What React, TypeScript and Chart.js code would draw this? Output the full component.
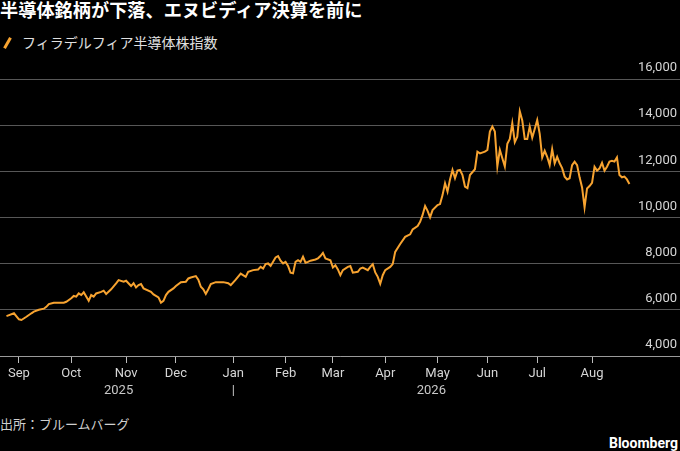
import { useEffect, useRef } from "react";
import { Chart, registerables } from "chart.js";

Chart.register(...registerables);

const TITLE = "半導体銘柄が下落、エヌビディア決算を前に";
const SERIES_NAME = "フィラデルフィア半導体株指数";
const SOURCE = "出所：ブルームバーグ";
const BRAND = "Bloomberg";

// x = trading-day index counted from the first session of September 2025
const tradingDays = [
  -5, -2, 0, 1, 3, 5, 6, 8, 10, 11,
  12, 14, 18, 19, 21, 22, 23, 24, 25, 26,
  28, 29, 30, 31, 33, 34, 35, 37, 39, 40,
  42, 43, 45, 46, 47, 48, 49, 50, 53, 54,
  56, 57, 58, 59, 60, 62, 63, 65, 67, 68,
  69, 71, 72, 73, 74, 75, 76, 77, 79, 82,
  84, 85, 87, 89, 91, 92, 94, 96, 97, 98,
  99, 100, 101, 103, 104, 105, 106, 107, 108, 109,
  110, 111, 112, 113, 114, 115, 116, 117, 119, 120,
  121, 122, 123, 125, 126, 127, 128, 129, 130, 132,
  133, 134, 136, 137, 138, 140, 141, 142, 143, 144,
  145, 146, 147, 149, 150, 151, 153, 155, 157, 158,
  160, 161, 162, 163, 164, 165, 166, 168, 169, 170,
  171, 172, 173, 174, 175, 176, 177, 178, 179, 180,
  181, 183, 184, 185, 187, 188, 189, 190, 191, 192,
  193, 194, 195, 196, 197, 198, 199, 200, 201, 202,
  203, 204, 205, 206, 207, 208, 209, 210, 211, 212,
  213, 214, 215, 216, 217, 218, 219, 220, 221, 222,
  223, 224, 225, 226, 227, 228, 229, 230, 231, 232,
  233, 234, 235, 236, 237, 238, 239, 240, 241, 242,
  243, 244, 245,
];

const soxValues = [
  5730, 5850, 5590, 5560, 5700, 5850, 5920, 6000, 6050, 6130,
  6250, 6310, 6310, 6350, 6500, 6600, 6570, 6710, 6640, 6760,
  6390, 6640, 6570, 6710, 6780, 6830, 6690, 6890, 7150, 7290,
  7220, 7260, 7030, 7150, 6970, 7070, 7120, 6930, 6780, 6670,
  6540, 6310, 6390, 6640, 6780, 6930, 7030, 7200, 7220, 7360,
  7400, 7460, 7310, 7000, 6890, 6690, 6890, 7120, 7200, 7200,
  7150, 7070, 7310, 7570, 7430, 7650, 7720, 7750, 7860, 7790,
  7980, 8010, 7900, 8270, 8330, 8130, 8010, 8080, 7900, 7610,
  7580, 8080, 8150, 8080, 8300, 8040, 8080, 8130, 8180, 8230,
  8330, 8470, 8230, 8150, 7830, 7930, 7750, 7500, 7720, 7860,
  7900, 7610, 7650, 7790, 7830, 7720, 7860, 7980, 7620, 7430,
  7130, 7500, 7720, 7860, 7980, 8510, 8850, 9160, 9270, 9480,
  9630, 9810, 10110, 10500, 10290, 10010, 10320, 10540, 10580, 10970,
  11480, 11120, 11650, 12060, 11700, 12030, 12060, 11840, 11340, 11270,
  11840, 12090, 12850, 12780, 12850, 12930, 13720, 13940, 13720, 12210,
  12930, 12570, 12210, 13190, 13400, 14080, 13260, 13500, 14600, 14200,
  13400, 13400, 13940, 13460, 13830, 14220, 13620, 12600, 12890, 12630,
  12270, 12960, 12350, 12630, 12350, 12140, 11770, 11650, 11700, 12270,
  12420, 12270, 11740, 11300, 10440, 11260, 11360, 11500, 12200, 12030,
  12130, 12370, 12030, 12200, 12420, 12460, 12420, 12600, 11840, 11740,
  11770, 11650, 11450,
];

const monthTickDays = [0, 21, 43, 63, 86, 107, 126, 147, 168, 188, 208, 230];
const monthLabels = ["Sep", "Oct", "Nov", "Dec", "Jan", "Feb", "Mar", "Apr", "May", "Jun", "Jul", "Aug"];

const yearTickDays = [40, 86, 165.5];
const yearLabels = ["2025", "|", "2026"];

const yTickValues = [4000, 6000, 8000, 10000, 12000, 14000, 16000];

const X_MIN = -7.6;
const X_MAX = 265.3;
const Y_MIN = 4000;
const Y_MAX = 16000;

const LINE_COLOR = "#f7a330";
const TICK_FONT = { family: "Roboto", size: 13 };

export default function App() {
  const canvasRef = useRef<HTMLCanvasElement | null>(null);

  useEffect(() => {
    if (!canvasRef.current) return;
    const points = tradingDays.map((d, i) => ({ x: d, y: soxValues[i] }));
    const chart = new Chart(canvasRef.current, {
      type: "line",
      data: {
        datasets: [
          {
            label: SERIES_NAME,
            data: points,
            borderColor: LINE_COLOR,
            borderWidth: 2,
            pointRadius: 0,
            tension: 0,
            fill: false,
            xAxisID: "x",
            yAxisID: "y",
          },
        ],
      },
      options: {
        animation: false,
        responsive: false,
        maintainAspectRatio: false,
        events: [],
        layout: { padding: { top: 79, left: 0, right: 0, bottom: 0 } },
        plugins: {
          legend: { display: false },
          tooltip: { enabled: false },
          title: { display: false },
        },
        scales: {
          x: {
            type: "linear",
            position: "bottom",
            weight: 0,
            bounds: "data",
            min: X_MIN,
            max: X_MAX,
            afterBuildTicks: (s: any) => {
              s.ticks = monthTickDays.map((v) => ({ value: v }));
            },
            afterFit: (s: any) => {
              s.height = 26;
            },
            ticks: {
              autoSkip: false,
              maxRotation: 0,
              minRotation: 0,
              color: "#d6d6d6",
              font: TICK_FONT,
              padding: 3,
              callback: (_v: any, i: number) => monthLabels[i],
            },
            grid: {
              drawOnChartArea: false,
              drawTicks: true,
              tickLength: 7,
              color: "#bdbdbd",
              tickColor: "#bdbdbd",
            },
            border: { display: true, color: "#9a9a9a", width: 1 },
          },
          x2: {
            type: "linear",
            position: "bottom",
            weight: 1,
            bounds: "data",
            min: X_MIN,
            max: X_MAX,
            afterBuildTicks: (s: any) => {
              s.ticks = yearTickDays.map((v) => ({ value: v }));
            },
            afterFit: (s: any) => {
              s.height = 28;
            },
            ticks: {
              autoSkip: false,
              maxRotation: 0,
              minRotation: 0,
              color: "#c8c8c8",
              font: TICK_FONT,
              padding: 1,
              callback: (_v: any, i: number) => yearLabels[i],
            },
            grid: { display: false, drawTicks: false },
            border: { display: false },
          },
          y: {
            type: "linear",
            position: "right",
            min: Y_MIN,
            max: Y_MAX,
            afterBuildTicks: (s: any) => {
              s.ticks = yTickValues.map((v) => ({ value: v }));
            },
            afterFit: (s: any) => {
              s.width = 0;
            },
            ticks: {
              mirror: true,
              padding: -3,
              labelOffset: -11,
              color: "#d6d6d6",
              font: TICK_FONT,
              callback: (v: any) => Number(v).toLocaleString("en-US"),
            },
            grid: { color: "#575757", lineWidth: 1, drawTicks: false },
            border: { display: false },
          },
        },
      },
    });
    return () => chart.destroy();
  }, []);

  return (
    <div
      style={{
        position: "fixed",
        left: 0,
        top: 0,
        width: 680,
        height: 451,
        background: "#000",
        overflow: "hidden",
      }}
    >
      <div
        style={{
          position: "absolute",
          left: 0,
          top: 0,
          whiteSpace: "nowrap",
          font: 'bold 18.2px "Noto Sans CJK JP", sans-serif',
          lineHeight: 1,
          color: "#ffffff",
        }}
      >
        {TITLE}
      </div>
      <div
        style={{
          position: "absolute",
          left: 6,
          top: 37,
          width: 3,
          height: 12,
          background: LINE_COLOR,
          transform: "rotate(30deg)",
        }}
      />
      <div
        style={{
          position: "absolute",
          left: 22,
          top: 35,
          whiteSpace: "nowrap",
          font: '14px "Noto Sans CJK JP", sans-serif',
          lineHeight: 1,
          color: "#e0e0e0",
        }}
      >
        {SERIES_NAME}
      </div>
      <canvas
        ref={canvasRef}
        width={680}
        height={410}
        style={{ position: "absolute", left: 0, top: 0, width: 680, height: 410 }}
      />
      <div
        style={{
          position: "absolute",
          left: 0,
          top: 417,
          whiteSpace: "nowrap",
          font: '13px "Noto Sans CJK JP", sans-serif',
          lineHeight: 1,
          color: "#cfcfcf",
        }}
      >
        {SOURCE}
      </div>
      <div
        style={{
          position: "absolute",
          right: 2,
          top: 436,
          whiteSpace: "nowrap",
          font: 'bold 14px Roboto, sans-serif',
          lineHeight: 1,
          color: "#ffffff",
        }}
      >
        {BRAND}
      </div>
    </div>
  );
}
